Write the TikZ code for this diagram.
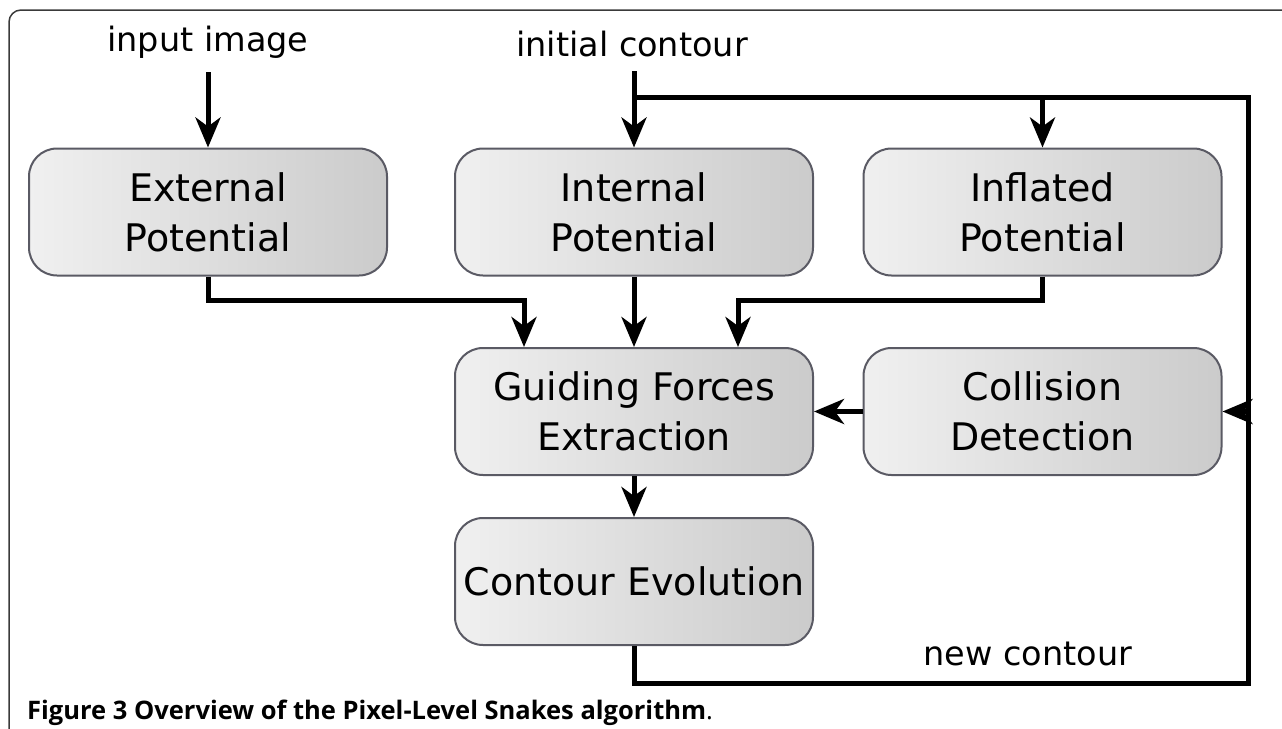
\documentclass[tikz,border=0pt]{standalone}
\usepackage{fontspec}
\setmainfont{DejaVu Sans}
\newfontfamily\capfont{Open Sans}
\usetikzlibrary{arrows.meta,calc}
\definecolor{boxedge}{HTML}{5A5A64}
\definecolor{boxlight}{HTML}{F0F0F0}
\definecolor{boxdark}{HTML}{CBCBCB}
\definecolor{framecol}{HTML}{3A3A3A}
\tikzset{
  procbox/.style={draw=boxedge, line width=2pt, rounded corners=28pt,
    left color=boxlight, right color=boxdark, align=center,
    font=\fontsize{38}{50}\selectfont, inner sep=0pt,
    minimum width=358pt, minimum height=127pt},
  lbl/.style={font=\fontsize{33.5}{40}\selectfont, inner sep=0pt},
  flow/.style={line width=5pt, line join=miter, black},
  arr/.style={flow, -{Stealth[length=30pt,width=25pt,inset=9pt]}},
}
\begin{document}
\begin{tikzpicture}[x=1pt,y=-1pt]
\useasboundingbox (0,0) rectangle (1282,728);
% outer frame
\draw[framecol, line width=1.5pt, rounded corners=12pt] (9,740) -- (9,10) -- (1290,10);

% boxes
\node[procbox] (ext)   at (208,212)      {External\\Potential};
\node[procbox] (int)   at (634,212)      {Internal\\Potential};
\node[procbox] (infl)  at (1042.5,212)   {Inflated\\Potential};
\node[procbox] (guide) at (634,411.5)    {Guiding Forces\\Extraction};
\node[procbox] (coll)  at (1042.5,411.5) {Collision\\Detection};
\node[procbox] (evo)   at (634,581.5)    {Contour Evolution};

% labels
\node[lbl] (inimg) at (208,42) {input image};
\node[lbl] (initc) at (632,44) {initial contour};
\node[lbl] (newc)  at (1028,654) {new contour};

% coordinates for the feedback loop
\coordinate (j)  at (634,97);
\coordinate (ne) at (1248,97);
\coordinate (se) at (1248,683);

% connectors
\draw[arr, shorten <=14pt] (inimg.south) -- (ext.north);
\draw[arr, shorten <=14pt] (initc.south -| j) -- (int.north -| j);
\draw[flow] (evo.south) -- (j |- se) -- (se) -- (ne) -- (j);
\draw[arr] (ne -| infl) -- (infl.north);
\draw[arr] (ne |- coll) -- (coll.east);
\draw[arr] (ext.south) -- ++(0,24) -| ([xshift=-110pt]guide.north);
\draw[arr] (infl.south) -- ++(0,24) -| ([xshift=104pt]guide.north);
\draw[arr] (int.south) -- (guide.north);
\draw[arr] (coll.west) -- (guide.east);
\draw[arr] (guide.south) -- (evo.north);

% caption
\node[anchor=base west, inner sep=0pt, font=\capfont\fontsize{25.5}{28}\selectfont] (cap) at (27,719)
  {\textbf{Figure 3 Overview of the Pixel-Level Snakes algorithm}.};
\end{tikzpicture}
\end{document}
